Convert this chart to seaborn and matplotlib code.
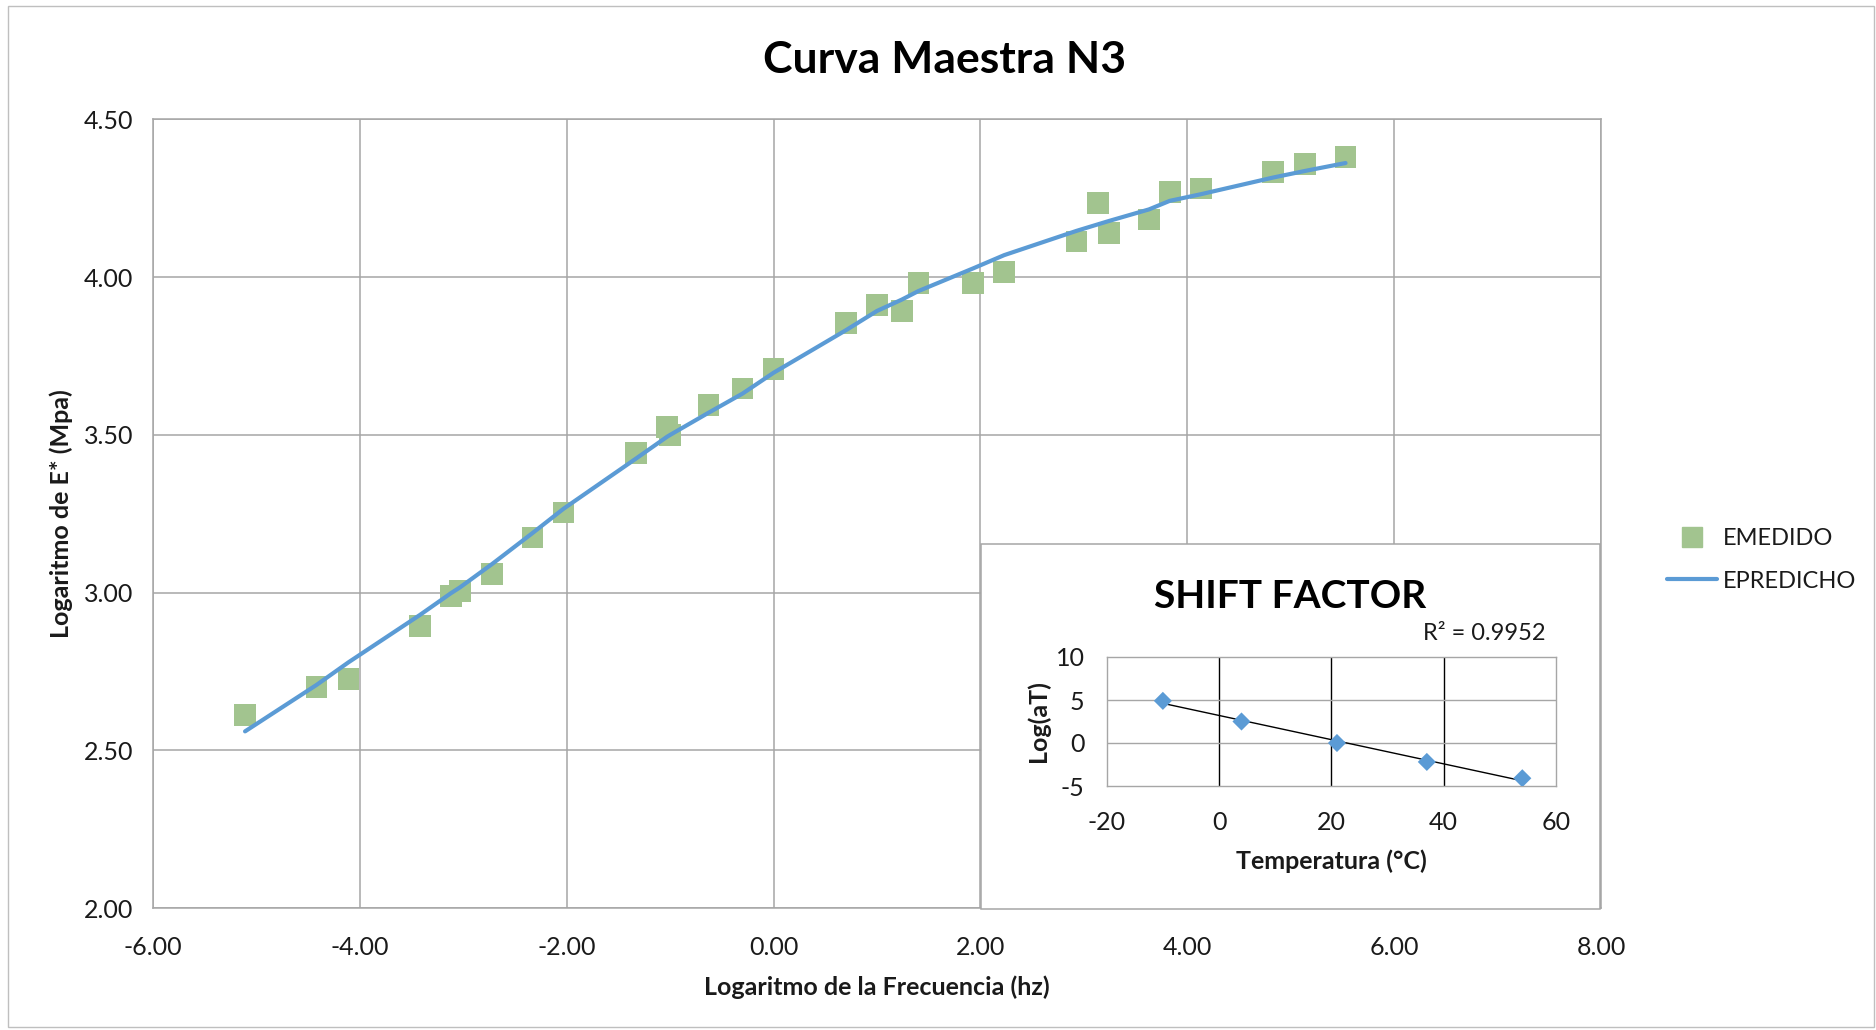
import numpy as np
import pandas as pd
import matplotlib
matplotlib.use("Agg")
import matplotlib.pyplot as plt
from matplotlib.lines import Line2D
from matplotlib.patches import Rectangle
from matplotlib.ticker import FormatStrFormatter, MultipleLocator
import seaborn as sns

# ---- Data ----
log_freq = [-5.11, -4.42, -4.11, -3.42, -3.12, -3.03, -2.72, -2.33, -2.03, -1.33,
            -1.03, -1.00, -0.63, -0.30, 0.00, 0.70, 1.00, 1.24, 1.40, 1.93,
            2.23, 2.93, 3.14, 3.24, 3.63, 3.83, 4.13, 4.83, 5.14, 5.53]
e_medido = [2.611, 2.701, 2.726, 2.894, 2.990, 3.005, 3.058, 3.175, 3.254, 3.443,
            3.525, 3.499, 3.594, 3.647, 3.709, 3.855, 3.912, 3.892, 3.981, 3.981,
            4.017, 4.113, 4.236, 4.140, 4.183, 4.270, 4.281, 4.334, 4.360, 4.381]
e_predicho = [2.560, 2.707, 2.779, 2.929, 2.998, 3.017, 3.091, 3.189, 3.266, 3.425,
              3.494, 3.500, 3.570, 3.631, 3.697, 3.832, 3.893, 3.929, 3.956, 4.028,
              4.070, 4.147, 4.168, 4.178, 4.215, 4.242, 4.263, 4.316, 4.337, 4.362]

temperatura = [-10, 4, 21, 37, 54]
log_at = [4.9, 2.5, 0.0, -2.2, -4.1]

title = "Curva Maestra N3"
xlabel = "Logaritmo de la Frecuencia (hz)"
ylabel = "Logaritmo de E* (Mpa)"
inset_title = "SHIFT FACTOR"
inset_xlabel = "Temperatura (°C)"
inset_ylabel = "Log(aT)"
r2_text = "R² = 0.9952"
legend_labels = ["EMEDIDO", "EPREDICHO"]

# ---- Style ----
sns.set_theme(style="white")
plt.rcParams['font.family'] = ['Lato', 'DejaVu Sans']
plt.rcParams['axes.unicode_minus'] = False

GREEN = "#A2C48F"
BLUE = "#5B9BD5"
GRID = "#A6A6A6"
TXT = "#1a1a1a"

W, H = 1876, 1030
fig = plt.figure(figsize=(W / 100, H / 100), dpi=100)
fig.patch.set_facecolor("white")

# figure border
fig.add_artist(Rectangle((0.004, 0.003), 0.995, 0.991, transform=fig.transFigure,
                         fill=False, edgecolor="#BFBFBF", linewidth=1.0))

df = pd.DataFrame({"x": log_freq, "med": e_medido, "pred": e_predicho})

ax = fig.add_axes([153 / W, 1 - 908 / H, (1601 - 153) / W, (908 - 119.5) / H])
ax.set_facecolor("white")
sns.lineplot(data=df, x="x", y="pred", ax=ax, color=BLUE, linewidth=3.0,
             sort=True, estimator=None, zorder=3, legend=False)
sns.scatterplot(data=df, x="x", y="med", ax=ax, marker="s", s=245, color=GREEN,
                edgecolor="none", linewidth=0, zorder=2, legend=False)
ax.set_xlim(-6, 8)
ax.set_ylim(2.0, 4.5)
ax.xaxis.set_major_locator(MultipleLocator(2))
ax.yaxis.set_major_locator(MultipleLocator(0.5))
ax.xaxis.set_major_formatter(FormatStrFormatter("%.2f"))
ax.yaxis.set_major_formatter(FormatStrFormatter("%.2f"))
ax.grid(True, color=GRID, linewidth=1.1)
for s in ax.spines.values():
    s.set_color(GRID)
    s.set_linewidth(1.1)
ax.tick_params(axis="both", labelsize=18, colors=TXT, length=0)
ax.tick_params(axis="x", pad=20)
ax.tick_params(axis="y", pad=14)
ax.set_xlabel(xlabel, fontsize=18, fontweight="bold", color=TXT, labelpad=12)
ax.set_ylabel(ylabel, fontsize=18, fontweight="bold", color=TXT, labelpad=8)
fig.text(0.5035, 1 - 60 / H, title, ha="center", va="center", fontsize=32,
         fontweight="bold", color="black")

# legend
handles = [Line2D([], [], linestyle="none", marker="s", markersize=14, color=GREEN),
           Line2D([], [], color=BLUE, linewidth=3.0)]
leg = fig.legend(handles, legend_labels, loc="center left",
                 bbox_to_anchor=(1667 / W, 1 - 560 / H), frameon=False,
                 fontsize=17, handlelength=2.1, labelspacing=0.9, handletextpad=0.25,
                 borderaxespad=0, borderpad=0)
for t in leg.get_texts():
    t.set_color(TXT)

# inset box
fig.add_artist(Rectangle((981 / W, 1 - 909 / H), (1600 - 981) / W, (909 - 544) / H,
                         transform=fig.transFigure, facecolor="white",
                         edgecolor="#A6A6A6", linewidth=1.1, zorder=5))

iax = fig.add_axes([1106.7 / W, 1 - 786 / H, (1556 - 1106.7) / W, (786 - 657) / H],
                   zorder=6)
iax.set_facecolor("white")
dfi = pd.DataFrame({"T": temperatura, "a": log_at})
sns.regplot(data=dfi, x="T", y="a", ax=iax, ci=None, scatter=False,
            line_kws=dict(color="black", linewidth=1.0), truncate=True)
sns.scatterplot(data=dfi, x="T", y="a", ax=iax, marker="D", s=85, color=BLUE,
                edgecolor="none", zorder=4, legend=False)
iax.set_xlim(-20, 60)
iax.set_ylim(-5, 10)
iax.xaxis.set_major_locator(MultipleLocator(20))
iax.yaxis.set_major_locator(MultipleLocator(5))
iax.grid(False)
for xv in [0, 20, 40]:
    iax.axvline(xv, color="black", linewidth=1.0, zorder=1)
for yv in [0, 5]:
    iax.axhline(yv, color=GRID, linewidth=1.0, zorder=1)
for s in iax.spines.values():
    s.set_color(GRID)
    s.set_linewidth(1.0)
iax.tick_params(axis="both", labelsize=18, colors=TXT, length=6, color=GRID,
                direction="out", width=1.0)
iax.tick_params(axis="x", pad=12)
iax.tick_params(axis="y", pad=10)
iax.set_xlabel(inset_xlabel, fontsize=18, fontweight="bold", color=TXT, labelpad=11)
iax.set_ylabel(inset_ylabel, fontsize=18, fontweight="bold", color=TXT, labelpad=4)
fig.text(1290 / W, 1 - 597 / H, inset_title, ha="center", va="center", fontsize=28,
         fontweight="bold", color="black", zorder=7)
fig.text(1484 / W, 1 - 634 / H, r2_text, ha="center", va="center", fontsize=17,
         color=TXT, zorder=7)

fig.savefig("out.png", dpi=100, facecolor="white")
